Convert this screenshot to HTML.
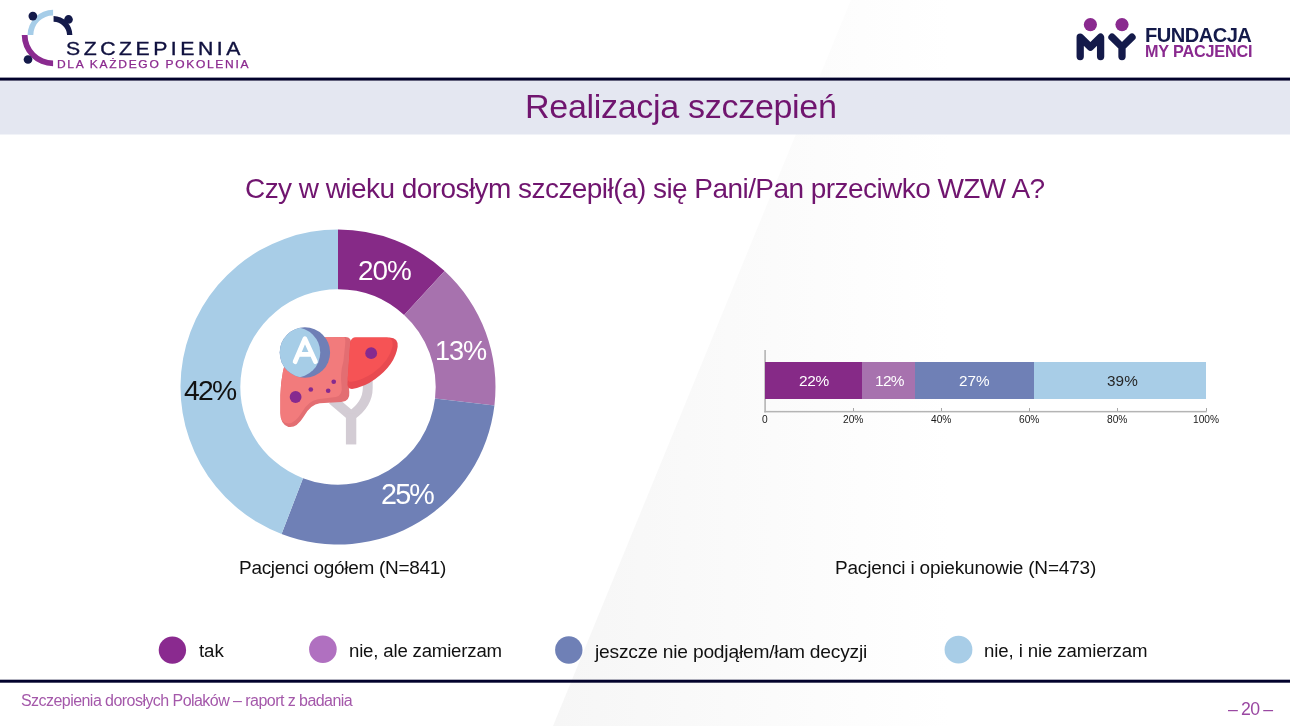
<!DOCTYPE html>
<html><head><meta charset="utf-8">
<style>
*{margin:0;padding:0;box-sizing:border-box}
html,body{width:1290px;height:726px;overflow:hidden;background:#fff}
body{position:relative;font-family:"Liberation Sans",sans-serif;color:#1a1a1a}
.abs{position:absolute;white-space:nowrap}
.t{position:absolute;white-space:nowrap;line-height:1;will-change:transform}
#bgshape{position:absolute;left:0;top:0;width:1290px;height:726px}
.lg{position:absolute;width:27px;height:27px;border-radius:50%}
</style></head><body>
<svg id="bgshape" width="1290" height="726" viewBox="0 0 1290 726">
<defs><linearGradient id="bgg" gradientUnits="userSpaceOnUse" x1="553" y1="0" x2="950" y2="0">
<stop offset="0" stop-color="#f6f6f6"/><stop offset="1" stop-color="#ffffff"/></linearGradient></defs>
<polygon points="851,0 1290,0 1290,726 553,726" fill="url(#bgg)"/>
</svg>

<!-- left logo -->
<svg class="abs" style="left:15px;top:5px" width="70" height="70" viewBox="0 0 726 726">
<path d="M130 310 A265 265 0 0 1 395 50 L395 110 A200 200 0 0 0 190 310 Z" fill="#a6cde8"/>
<path d="M70 310 A325 325 0 0 0 395 635 L395 575 A265 265 0 0 1 130 310 Z" fill="#8a2a8f"/>
<path d="M400 115 A197 197 0 0 1 595 310 L540 310 A140 140 0 0 0 400 175 Z" fill="#141a4a"/>
<circle cx="555" cy="150" r="45" fill="#141a4a"/>
<circle cx="185" cy="115" r="45" fill="#141a4a"/>
<circle cx="135" cy="565" r="45" fill="#141a4a"/>
</svg>
<div class="t" id="szc" style="left:65.5px;top:40.8px;font-size:17.68px;letter-spacing:2.940px;color:#10113f;transform:scaleX(1.2);transform-origin:0 0;-webkit-text-stroke:0.35px #10113f">SZCZEPIENIA</div>
<div class="t" id="dla" style="left:57.3px;top:60.4px;font-size:10.00px;letter-spacing:1.420px;color:#8b2a8f;transform:scaleX(1.2);transform-origin:0 0;-webkit-text-stroke:0.25px #8b2a8f">DLA KAŻDEGO POKOLENIA</div>

<!-- right logo -->
<svg class="abs" style="left:1070px;top:14px" width="72" height="52" viewBox="0 0 72 52">
<circle cx="20.4" cy="10.6" r="6.6" fill="#8a2a8f"/>
<circle cx="52" cy="10.6" r="6.6" fill="#8a2a8f"/>
<path d="M10.2 42.6 L10.2 23.2 L20.4 33.2 L30.6 23.2 L30.6 42.6" fill="none" stroke="#141a4a" stroke-width="7.3" stroke-linecap="round" stroke-linejoin="round"/>
<path d="M42 23.2 L52 33 L62 23.2 M52 33 L52 42.6" fill="none" stroke="#141a4a" stroke-width="7.3" stroke-linecap="round" stroke-linejoin="round"/>
</svg>
<div class="t" id="fund" style="left:1145.0px;top:24.9px;font-size:20.14px;letter-spacing:-0.543px;color:#141a4a;font-weight:bold">FUNDACJA</div>
<div class="t" id="myp" style="left:1145.0px;top:43.2px;font-size:16.23px;letter-spacing:-0.180px;color:#8a2a8f;font-weight:bold">MY PACJENCI</div>

<svg class="abs" style="left:0;top:0" width="1290" height="726"><rect x="0" y="80.6" width="1290" height="53.9" fill="#e4e7f1"/><rect x="0" y="77.6" width="1290" height="3" fill="#02022c"/><rect x="0" y="679.7" width="1290" height="3" fill="#02022c"/></svg>
<div class="t" id="title" style="left:524.8px;top:89.2px;font-size:34.06px;letter-spacing:-0.316px;color:#70156f">Realizacja szczepień</div>
<div class="t" id="q" style="left:245.2px;top:174.8px;font-size:28.00px;letter-spacing:-0.556px;color:#70156f">Czy w wieku dorosłym szczepił(a) się Pani/Pan przeciwko WZW A?</div>

<!-- donut -->
<svg class="abs" style="left:0;top:0" width="1290" height="726" viewBox="0 0 1290 726">
<path fill="#862a87" d="M338.00 229.50A157.5 157.5 0 0 1 444.61 271.06L404.13 315.08A97.7 97.7 0 0 0 338.00 289.30Z"/>
<path fill="#a772ae" d="M444.61 271.06A157.5 157.5 0 0 1 494.42 405.38L435.03 398.40A97.7 97.7 0 0 0 404.13 315.08Z"/>
<path fill="#6f80b6" d="M494.42 405.38A157.5 157.5 0 0 1 281.56 534.04L302.99 478.21A97.7 97.7 0 0 0 435.03 398.40Z"/>
<path fill="#a8cde7" d="M281.56 534.04A157.5 157.5 0 0 1 338.00 229.50L338.00 289.30A97.7 97.7 0 0 0 302.99 478.21Z"/>
</svg>
<div class="t" id="d20" style="left:358.1px;top:256.7px;font-size:27.86px;letter-spacing:-1.000px;color:#fff">20%</div>
<div class="t" id="d13" style="left:435.2px;top:337.4px;font-size:27.14px;letter-spacing:-1.050px;color:#fff">13%</div>
<div class="t" id="d42" style="left:183.9px;top:376.0px;font-size:28.29px;letter-spacing:-1.750px;color:#111">42%</div>
<div class="t" id="d25" style="left:380.5px;top:480.1px;font-size:28.71px;letter-spacing:-1.800px;color:#fff">25%</div>

<!-- liver icon -->
<svg class="abs" style="left:275px;top:320px" width="130" height="130" viewBox="0 0 726 726">
<g fill="none" stroke="#d3ccd4" stroke-width="55">
<path d="M320 445 L425 535"/>
<path d="M518 300 L518 380 Q518 470 425 535"/>
<path d="M425 520 L425 695" stroke-width="58"/>
</g>
<path fill="#e36e72" d="M30 420 Q40 120 200 98 L395 95 Q428 97 426 135 L420 250 Q405 340 415 400 Q420 455 370 458 L250 465 Q200 470 160 540 Q120 605 75 597 Q30 585 30 520 Z"/>
<path fill="#f27b7c" d="M30 420 Q40 120 200 98 L385 95 Q395 97 392 135 L382 232 Q362 300 372 370 Q380 420 340 430 L240 442 Q185 452 150 515 Q115 575 75 578 Q30 578 30 520 Z"/>
<path fill="#e84a50" d="M450 98 L640 98 Q690 100 685 150 Q670 250 560 330 Q500 375 430 385 Q400 385 405 350 L420 130 Q425 98 450 98 Z"/>
<path fill="#f65355" d="M450 98 L625 98 Q662 100 657 145 Q640 230 545 298 Q485 338 428 345 Q405 347 406 325 L420 130 Q425 98 450 98 Z"/>
<circle cx="115" cy="430" r="33" fill="#862a8f"/>
<circle cx="537" cy="185" r="33" fill="#862a8f"/>
<circle cx="200" cy="388" r="13" fill="#862a8f"/>
<circle cx="297" cy="395" r="13" fill="#862a8f"/>
<circle cx="328" cy="345" r="13" fill="#862a8f"/>
<defs><clipPath id="cc"><circle cx="167" cy="181.5" r="140.7"/></clipPath></defs>
<circle cx="167" cy="181.5" r="140.7" fill="#6f7fb6"/>
<circle cx="112" cy="181.5" r="140.7" fill="#a6cde7" clip-path="url(#cc)"/>
<path d="M112 233 L167 104 L226 233 M132 192 L206 192" fill="none" stroke="#fff" stroke-width="26" stroke-linecap="round" stroke-linejoin="round"/>
</svg>

<div class="t" id="lab1" style="left:238.7px;top:558.0px;font-size:18.99px;letter-spacing:-0.286px;color:#111">Pacjenci ogółem (N=841)</div>
<div class="t" id="lab2" style="left:835.2px;top:558.0px;font-size:18.99px;letter-spacing:-0.179px;color:#111">Pacjenci i opiekunowie (N=473)</div>

<!-- bar chart -->
<svg class="abs" style="left:0;top:0" width="1290" height="726"><rect x="764.3" y="350" width="1.6" height="62.4" fill="#b4b4b4"/><rect x="764.3" y="410.9" width="442.5" height="1.5" fill="#b4b4b4"/></svg>
<div class="abs" style="left:853px;top:408px;width:1px;height:3px;background:#a6a6a6"></div>
<div class="abs" style="left:941px;top:408px;width:1px;height:3px;background:#a6a6a6"></div>
<div class="abs" style="left:1029px;top:408px;width:1px;height:3px;background:#a6a6a6"></div>
<div class="abs" style="left:1117px;top:408px;width:1px;height:3px;background:#a6a6a6"></div>
<div class="abs" style="left:1206px;top:408px;width:1px;height:3px;background:#a6a6a6"></div>
<div class="abs" style="left:765px;top:362px;width:97px;height:37px;background:#862a87"></div>
<div class="abs" style="left:862px;top:362px;width:53px;height:37px;background:#a772ae"></div>
<div class="abs" style="left:915px;top:362px;width:119px;height:37px;background:#6f80b6"></div>
<div class="abs" style="left:1034px;top:362px;width:172px;height:37px;background:#a8cde7"></div>
<div class="t" id="b22" style="left:799.0px;top:373.0px;font-size:15.43px;letter-spacing:-0.300px;color:#fff">22%</div>
<div class="t" id="b12" style="left:874.6px;top:373.0px;font-size:15.43px;letter-spacing:-0.650px;color:#fff">12%</div>
<div class="t" id="b27" style="left:959.1px;top:372.9px;font-size:15.29px;letter-spacing:0.000px;color:#fff">27%</div>
<div class="t" id="b39" style="left:1107.4px;top:372.9px;font-size:15.29px;letter-spacing:0.100px;color:#262626">39%</div>
<div class="abs" style="left:762px;top:413.5px;font-size:10.2px;color:#1a1a1a">0</div>
<div class="abs" style="left:843px;top:413.5px;font-size:10.2px;color:#1a1a1a">20%</div>
<div class="abs" style="left:931px;top:413.5px;font-size:10.2px;color:#1a1a1a">40%</div>
<div class="abs" style="left:1019px;top:413.5px;font-size:10.2px;color:#1a1a1a">60%</div>
<div class="abs" style="left:1107px;top:413.5px;font-size:10.2px;color:#1a1a1a">80%</div>
<div class="abs" style="left:1193px;top:413.5px;font-size:10.2px;color:#1a1a1a">100%</div>

<!-- legend -->
<svg class="abs" style="left:0;top:0" width="1290" height="726"><circle cx="172.4" cy="650.1" r="13.7" fill="#8a2a8f"/><circle cx="322.9" cy="649.2" r="13.8" fill="#b070c0"/><circle cx="568.8" cy="650" r="13.7" fill="#6f80b6"/><circle cx="958.5" cy="649.7" r="13.9" fill="#a8cde7"/></svg>
<div class="t" id="lt1" style="left:199.1px;top:642.2px;font-size:18.70px;letter-spacing:-0.100px;color:#111">tak</div>
<div class="t" id="lt2" style="left:349.2px;top:642.0px;font-size:18.63px;letter-spacing:-0.182px;color:#111">nie, ale zamierzam</div>
<div class="t" id="lt3" style="left:595.0px;top:642.0px;font-size:19.18px;letter-spacing:-0.187px;color:#111">jeszcze nie podjąłem/łam decyzji</div>
<div class="t" id="lt4" style="left:984.3px;top:642.2px;font-size:18.63px;letter-spacing:-0.105px;color:#111">nie, i nie zamierzam</div>

<div class="t" id="foot" style="left:21.1px;top:693.4px;font-size:16.00px;letter-spacing:-0.550px;color:#a458aa">Szczepienia dorosłych Polaków – raport z badania</div>
<div class="t" id="pg" style="left:1228.1px;top:700.7px;font-size:17.71px;letter-spacing:-0.820px;color:#9a48a2">– 20 –</div>
</body></html>
